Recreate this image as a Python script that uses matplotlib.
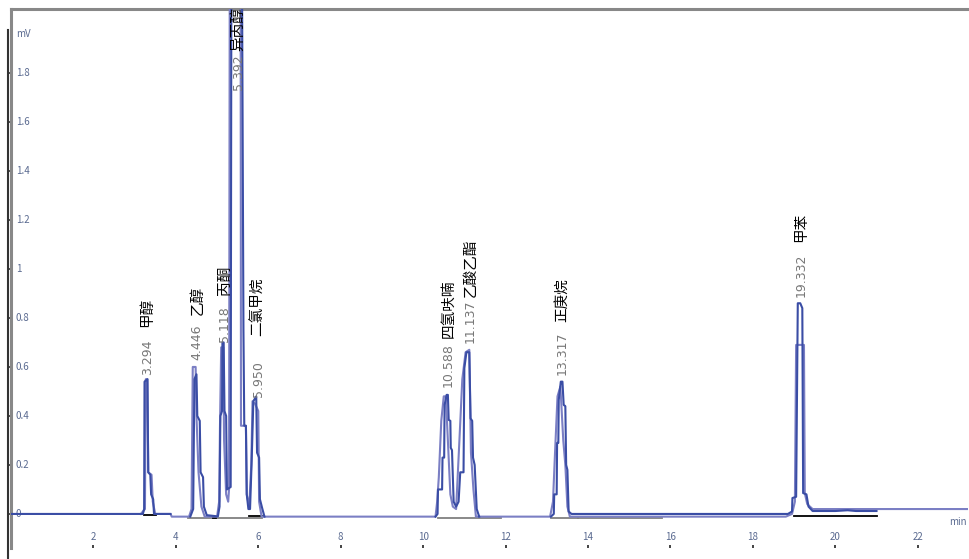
import numpy as np
import matplotlib.pyplot as plt
from matplotlib.lines import Line2D

plt.rcParams['font.family'] = ['Noto Sans CJK SC', 'DejaVu Sans']

# dark trace, split where it hides under the light trace (NaN = gap)
dark_t = [0, 3.20, 3.23, 3.24, 3.31, 3.33, 3.38, 3.40, 3.45, 3.47, 3.87, np.nan,
          4.35, 4.42, 4.45, 4.50, 4.52, 4.58, 4.60, 4.66, 4.68, 4.75, 5.02, 5.06, 5.08,
          5.12, 5.13, 5.16, 5.18, 5.22, 5.24, 5.33, 5.35, 5.48, 5.60, 5.64, 5.66, 5.70,
          5.72, 5.76, 5.80, 5.84, 5.88, 5.95, 5.97, 6.02, 6.04, 6.10, 6.15, np.nan,
          10.30, 10.35, 10.36, 10.46, 10.47, 10.51, 10.52, 10.57, 10.60, 10.62, 10.66,
          10.67, 10.70, 10.74, 10.80, 10.86, 10.90, 10.98, 11.00, 11.05, 11.12, 11.15,
          11.19, 11.21, 11.25, 11.30, 11.36, np.nan,
          13.10, 13.17, 13.18, 13.24, 13.25, 13.28, 13.29, 13.34, 13.38, 13.41, 13.45,
          13.47, 13.50, 13.53, 13.60, 18.85, 18.95, 18.96, 19.05, 19.09, 19.15, 19.20,
          19.22, 19.30, 19.35, 19.45, 20.0, 20.3, 20.5, 21.0]
dark_v = [0, 0, 0.02, 0.54, 0.55, 0.17, 0.16, 0.08, 0.06, 0.0, 0.0, np.nan,
          -0.011, 0.02, 0.55, 0.57, 0.40, 0.38, 0.17, 0.15, 0.03, -0.005, -0.01, 0.03, 0.40,
          0.42, 0.70, 0.70, 0.42, 0.40, 0.10, 0.11, 2.6, 3.2, 2.4, 0.75, 0.36, 0.36,
          0.08, 0.02, 0.02, 0.22, 0.46, 0.48, 0.25, 0.23, 0.06, 0.02, -0.011, np.nan,
          -0.011, 0.0, 0.10, 0.10, 0.23, 0.23, 0.445, 0.486, 0.486, 0.384, 0.38,
          0.27, 0.26, 0.05, 0.03, 0.05, 0.17, 0.17, 0.595, 0.66, 0.66, 0.39,
          0.38, 0.23, 0.20, 0.02, -0.011, np.nan,
          -0.011, 0.0, 0.08, 0.08, 0.29, 0.29, 0.465, 0.54, 0.54, 0.445, 0.44,
          0.20, 0.18, 0.01, 0.0, 0.0, 0.01, 0.065, 0.07, 0.86, 0.86, 0.84,
          0.085, 0.08, 0.03, 0.012, 0.012, 0.015, 0.012, 0.012]

# light (second) trace
light_t = [3.15, 3.25, 3.27, 3.31, 3.33, 3.41, 3.44, 3.50, 3.87, 3.90,
           4.32, 4.38, 4.41, 4.48, 4.50, 4.55, 4.62, 4.70, 5.00, 5.05, 5.07, 5.10, 5.15,
           5.17, 5.22, 5.27, 5.29, 5.31, 5.45, 5.57, 5.58, 5.70, 5.72, 5.78, 5.83, 5.86,
           5.92, 6.00, 6.02, 6.08,
           10.30, 10.34, 10.38, 10.44, 10.50, 10.55, 10.60, 10.66, 10.72, 10.80, 10.88,
           10.95, 11.03, 11.12, 11.16, 11.22, 11.28,
           13.08, 13.15, 13.20, 13.26, 13.33, 13.40, 13.45, 13.50, 13.56,
           18.80, 18.95, 19.02, 19.05, 19.24, 19.26, 19.32, 19.45, 23.2]
light_v = [0, 0.02, 0.55, 0.55, 0.17, 0.16, 0.05, 0, 0, -0.011,
           -0.011, 0.02, 0.60, 0.60, 0.40, 0.17, 0.03, -0.011, -0.011, 0.05, 0.35, 0.68, 0.68,
           0.30, 0.08, 0.05, 0.10, 2.5, 3.3, 2.5, 0.36, 0.36, 0.08, 0.03, 0.20, 0.46,
           0.45, 0.42, 0.05, -0.011,
           -0.011, 0.05, 0.15, 0.38, 0.48, 0.48, 0.30, 0.08, 0.03, 0.02, 0.30,
           0.55, 0.66, 0.67, 0.25, 0.10, -0.011,
           -0.011, 0.05, 0.25, 0.48, 0.52, 0.30, 0.20, 0.03, -0.011,
           -0.011, 0.0, 0.05, 0.69, 0.69, 0.085, 0.04, 0.02, 0.02]

# integration baselines: start, end, level, colour
base_t0 = [3.22, 4.30, 4.90, 5.78, 10.35, 13.10, 13.75, 19.00]
base_t1 = [3.51, 6.10, 4.98, 6.12, 11.90, 13.75, 15.80, 21.00]
base_v = [-0.003, -0.018, -0.018, -0.008, -0.018, -0.018, -0.018, -0.008]
base_c = ['black', 'grey', 'black', 'black', 'grey', 'grey', 'grey', 'black']

# peak labels
peak_rt = ['3.294', '4.446', '5.118', '5.392', '5.950',
           '10.588', '11.137', '13.317', '19.332']
peak_name = ['甲醇', '乙醇', '丙酮', '异丙醇', '二氯甲烷',
             '四氢呋喃', '乙酸乙酯', '正庚烷', '甲苯']
label_t = [3.31, 4.52, 5.18, 5.52, 6.00, 10.61, 11.14, 13.37, 19.17]
num_y = [0.567, 0.629, 0.702, 1.73, 0.478, 0.518, 0.698, 0.567, 0.886]
name_y = [0.763, 0.812, 0.894, 1.89, 0.727, 0.718, 0.886, 0.784, 1.11]

y_ticks = [0, 0.2, 0.4, 0.6, 0.8, 1.0, 1.2, 1.4, 1.6, 1.8]
y_labels = ['0', '0.2', '0.4', '0.6', '0.8', '1', '1.2', '1.4', '1.6', '1.8']
x_ticks = [2, 4, 6, 8, 10, 12, 14, 16, 18, 20, 22]

tick_col = '#5a6a90'

fig = plt.figure(figsize=(9.7, 5.59), dpi=100)
ax = fig.add_axes([11 / 970, 1 - 548 / 559, 957 / 970, 539 / 559])
ax.set_xlim(0, 23.22)
ax.set_ylim(-0.139, 2.061)

ax.plot(light_t, light_v, color='#7b7fc4', lw=1.5, zorder=3)
ax.plot(dark_t, dark_v, color='#3a4da5', lw=1.5, zorder=4)

for t0, t1, v, c in zip(base_t0, base_t1, base_v, base_c):
    ax.plot([t0, t1], [v, v], color=c, lw=1.3, zorder=2)

for rt, name, t, y0, y1 in zip(peak_rt, peak_name, label_t, num_y, name_y):
    ax.text(t, y0, rt, rotation=90, ha='center', va='bottom', fontsize=9,
            color='#777777', family=['DejaVu Sans'], zorder=6, clip_on=False)
    ax.text(t, y1, name, rotation=90, ha='center', va='bottom', fontsize=10.5,
            color='black', zorder=6, clip_on=False)

# spines
for s in ['right', 'bottom']:
    ax.spines[s].set_visible(False)
for s in ['left', 'top']:
    ax.spines[s].set_color('#888888')
    ax.spines[s].set_linewidth(2.2)

ax.set_yticks(y_ticks)
ax.set_yticklabels([])
ax.tick_params(axis='y', direction='out', length=2.5, width=1.2, color='#333333')
for v, lab in zip(y_ticks, y_labels):
    ax.text(0.005, v, lab, transform=ax.get_yaxis_transform(), ha='left',
            va='center', fontsize=7, color=tick_col)
ax.text(0.005, 1.96, 'mV', transform=ax.get_yaxis_transform(), ha='left',
        va='center', fontsize=7, color=tick_col)

ax.set_xticks(x_ticks)
ax.set_xticklabels([])
ax.tick_params(axis='x', direction='in', length=2, width=1.2, color='#222222')
for t in x_ticks:
    ax.text(t, -0.094, str(t), ha='center', va='center', fontsize=7, color=tick_col)
ax.text(22.98, -0.033, 'min', ha='center', va='center', fontsize=7, color=tick_col)

# outer frame line at the far left
fig.add_artist(Line2D([8 / 970, 8 / 970], [0, 1 - 30 / 559], color='#333333', lw=1.5))

fig.savefig('out.png', dpi=100)
